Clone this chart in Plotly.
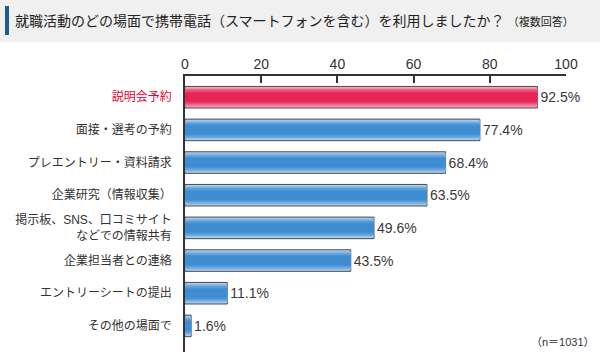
import plotly.graph_objects as go

categories = [
    "説明会予約",
    "面接・選考の予約",
    "プレエントリー・資料請求",
    "企業研究（情報収集）",
    "掲示板、SNS、口コミサイト<br>などでの情報共有",
    "企業担当者との連絡",
    "エントリーシートの提出",
    "その他の場面で",
]
values = [92.5, 77.4, 68.4, 63.5, 49.6, 43.5, 11.1, 1.6]
value_labels = ["92.5%", "77.4%", "68.4%", "63.5%", "49.6%", "43.5%", "11.1%", "1.6%"]
x_ticks = [0, 20, 40, 60, 80, 100]

title_text = "就職活動のどの場面で携帯電話（スマートフォンを含む）を利用しましたか？"
title_note = "（複数回答）"
n_note = "（n＝1031）"

FONT = "Liberation Sans, Arial, Noto Sans CJK JP, sans-serif"

blue_layers = ["#b3d3f0", "#93bfe8", "#74acdf", "#5c9ed9", "#4893d4", "#3e8cd1"]
red_layers = ["#f3aec2", "#f08aa6", "#ec6a8c", "#ea4e77", "#e83563", "#e62455"]
widths = [0.66, 0.58, 0.50, 0.42, 0.34, 0.26]

fig = go.Figure()
for i, w in enumerate(widths):
    colors = [red_layers[i] if k == 0 else blue_layers[i] for k in range(len(values))]
    fig.add_trace(go.Bar(
        x=values, y=categories, orientation="h", width=w,
        marker=dict(color=colors,
                    line=dict(color="#4a4a4a" if i == 0 else "rgba(0,0,0,0)", width=1 if i == 0 else 0)),
        text=value_labels if i == 0 else None,
        textposition="outside" if i == 0 else "none",
        textfont=dict(size=14, color="#3a3a3a", family=FONT),
        cliponaxis=False,
        hoverinfo="skip" if i > 0 else "x+y",
        showlegend=False,
    ))

ticktext = []
for k, c in enumerate(categories):
    if k == 0:
        ticktext.append('<span style="color:#e60033">' + c + "</span>")
    else:
        ticktext.append(c)

fig.update_layout(
    width=600, height=360,
    margin=dict(l=185, r=34, t=76, b=8),
    paper_bgcolor="white", plot_bgcolor="white",
    barmode="overlay",
    font=dict(family=FONT, color="#333333"),
    xaxis=dict(
        side="top", range=[0, 100], tickvals=x_ticks,
        ticks="inside", ticklen=7, tickcolor="#333333", tickwidth=1.5,
        showline=True, linecolor="#333333", linewidth=1.5,
        showgrid=False, zeroline=False,
        tickfont=dict(size=14, color="#333333", family=FONT),
        fixedrange=True,
    ),
    yaxis=dict(
        type="category", range=[7.8, -0.65],
        tickmode="array", tickvals=categories, ticktext=ticktext,
        showline=True, linecolor="#333333", linewidth=1.5,
        showgrid=False, zeroline=False, ticks="",
        ticklabelstandoff=9,
        tickfont=dict(size=12, color="#333333", family=FONT),
        fixedrange=True,
    ),
    shapes=[
        dict(type="rect", xref="paper", yref="paper", x0=-185/381, x1=1 + 34/381,
             y0=1 + 34/276, y1=1 + 76/276, fillcolor="#f0f0f0", line=dict(width=0), layer="below"),
        dict(type="rect", xref="paper", yref="paper", x0=-180/381, x1=-176/381,
             y0=1 + 41/276, y1=1 + 70/276, fillcolor="#1d5b94", line=dict(width=0)),
    ],
    annotations=[
        dict(xref="paper", yref="paper", x=-172/381, y=1 + 55/276, xanchor="left", yanchor="middle",
             text=title_text + '<span style="font-size:11px"> ' + title_note + "</span>",
             showarrow=False, font=dict(size=14, color="#222222", family=FONT)),
        dict(xref="paper", yref="paper", x=1 + 31/381, y=2/276, xanchor="right", yanchor="bottom",
             text=n_note, showarrow=False, font=dict(size=11, color="#333333", family=FONT)),
    ],
)

fig.write_html("out.html", config={"displayModeBar": False},
               post_script="document.body.style.margin='0';document.body.style.overflow='hidden';")
